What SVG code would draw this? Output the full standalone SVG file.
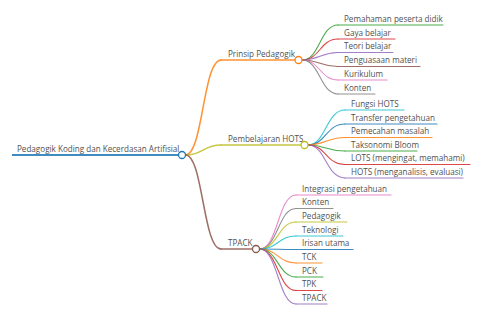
<svg xmlns="http://www.w3.org/2000/svg" width="480" height="320" viewBox="0 0 480 320">
<style>
text{font-family:"Open Sans","Noto Sans",sans-serif;font-size:8.1px;fill:#505050}
.l{fill:none;stroke-width:1.1;stroke-linecap:round;stroke-opacity:0.85}
.b{fill:none;stroke-width:1.5;stroke-linecap:round;stroke-opacity:0.85}
.c{fill:#fff;stroke-width:1.3}
.c0{stroke:#1f77b4}.c1{stroke:#ff7f0e}.c2{stroke:#2ca02c}.c3{stroke:#d62728}.c4{stroke:#9467bd}
.c5{stroke:#8c564b}.c6{stroke:#e377c2}.c7{stroke:#7f7f7f}.c8{stroke:#bcbd22}.c9{stroke:#17becf}
</style>
<rect width="480" height="320" fill="#fff"/>
<g id="connectors">
<path class="b c1" d="M185.5,155 C203,155 203,60 221,60"/>
<path class="b c8" d="M185.5,155 C203,155 203,145 221,145"/>
<path class="b c5" d="M185.5,155 C203,155 203,249 221,249"/>
<path class="l c2" d="M302,60 C320,60 320,25 338,25"/>
<path class="l c3" d="M302,60 C320,60 320,39 338,39"/>
<path class="l c4" d="M302,60 C320,60 320,52.5 338,52.5"/>
<path class="l c5" d="M302,60 C320,60 320,66.5 338,66.5"/>
<path class="l c6" d="M302,60 C320,60 320,80 338,80"/>
<path class="l c7" d="M302,60 C320,60 320,94 338,94"/>
<path class="l c9" d="M308,145 C326,145 326,110 345,110"/>
<path class="l c0" d="M308,145 C326,145 326,124 345,124"/>
<path class="l c1" d="M308,145 C326,145 326,137.5 345,137.5"/>
<path class="l c2" d="M308,145 C326,145 326,151 345,151"/>
<path class="l c3" d="M308,145 C326,145 326,164.5 345,164.5"/>
<path class="l c4" d="M308,145 C326,145 326,178 345,178"/>
<path class="l c6" d="M259.5,249 C278,249 278,195 296,195"/>
<path class="l c7" d="M259.5,249 C278,249 278,208.5 296,208.5"/>
<path class="l c8" d="M259.5,249 C278,249 278,222 296,222"/>
<path class="l c9" d="M259.5,249 C278,249 278,236 296,236"/>
<path class="l c0" d="M259.5,249 C278,249 278,249.5 296,249.5"/>
<path class="l c1" d="M259.5,249 C278,249 278,263 296,263"/>
<path class="l c2" d="M259.5,249 C278,249 278,277 296,277"/>
<path class="l c3" d="M259.5,249 C278,249 278,290.5 296,290.5"/>
<path class="l c4" d="M259.5,249 C278,249 278,304 296,304"/>
</g>
<g id="root"><path class="c0" stroke-width="2" stroke-opacity="0.85" d="M12,155H178.5"/><text x="17" y="151.5">Pedagogik Koding dan Kecerdasan Artifisial</text><circle class="c c0" cx="182" cy="155" r="3.5"/></g>
<g id="n-prinsip"><path class="b c1" d="M221,60H295"/><text x="228" y="56.5">Prinsip Pedagogik</text><circle class="c c1" cx="298.5" cy="60" r="3.5"/></g>
<g id="n-hots"><path class="b c8" d="M221,145H301"/><text x="228" y="141.5">Pembelajaran HOTS</text><circle class="c c8" cx="304.5" cy="145" r="3.5"/></g>
<g id="n-tpack"><path class="b c5" d="M221,249H252.5"/><text x="228" y="245.5">TPACK</text><circle class="c c5" cx="256" cy="249" r="3.5"/></g>
<g id="p1"><path class="l c2" d="M338,25H443"/><text x="344" y="21.5">Pemahaman peserta didik</text></g>
<g id="p2"><path class="l c3" d="M338,39H395"/><text x="344" y="35.5">Gaya belajar</text></g>
<g id="p3"><path class="l c4" d="M338,52.5H393"/><text x="344" y="49">Teori belajar</text></g>
<g id="p4"><path class="l c5" d="M338,66.5H420"/><text x="344" y="63">Penguasaan materi</text></g>
<g id="p5"><path class="l c6" d="M338,80H387"/><text x="344" y="76.5">Kurikulum</text></g>
<g id="p6"><path class="l c7" d="M338,94H375"/><text x="344" y="90.5">Konten</text></g>
<g id="h1"><path class="l c9" d="M345,110H404"/><text x="351" y="106.5">Fungsi HOTS</text></g>
<g id="h2"><path class="l c0" d="M345,124H437"/><text x="351" y="120.5">Transfer pengetahuan</text></g>
<g id="h3"><path class="l c1" d="M345,137.5H432"/><text x="351" y="134">Pemecahan masalah</text></g>
<g id="h4"><path class="l c2" d="M345,151H417"/><text x="351" y="147.5">Taksonomi Bloom</text></g>
<g id="h5"><path class="l c3" d="M345,164.5H470"/><text x="351" y="161">LOTS (mengingat, memahami)</text></g>
<g id="h6"><path class="l c4" d="M345,178H463"/><text x="351" y="174.5">HOTS (menganalisis, evaluasi)</text></g>
<g id="t1"><path class="l c6" d="M296,195H391"/><text x="302" y="191.5">Integrasi pengetahuan</text></g>
<g id="t2"><path class="l c7" d="M296,208.5H333"/><text x="302" y="205">Konten</text></g>
<g id="t3"><path class="l c8" d="M296,222H347"/><text x="302" y="218.5">Pedagogik</text></g>
<g id="t4"><path class="l c9" d="M296,236H343"/><text x="302" y="232.5">Teknologi</text></g>
<g id="t5"><path class="l c0" d="M296,249.5H353"/><text x="302" y="246">Irisan utama</text></g>
<g id="t6"><path class="l c1" d="M296,263H322"/><text x="302" y="259.5">TCK</text></g>
<g id="t7"><path class="l c2" d="M296,277H323"/><text x="302" y="273.5">PCK</text></g>
<g id="t8"><path class="l c3" d="M296,290.5H322"/><text x="302" y="287">TPK</text></g>
<g id="t9"><path class="l c4" d="M296,304H327"/><text x="302" y="300.5">TPACK</text></g>
</svg>
